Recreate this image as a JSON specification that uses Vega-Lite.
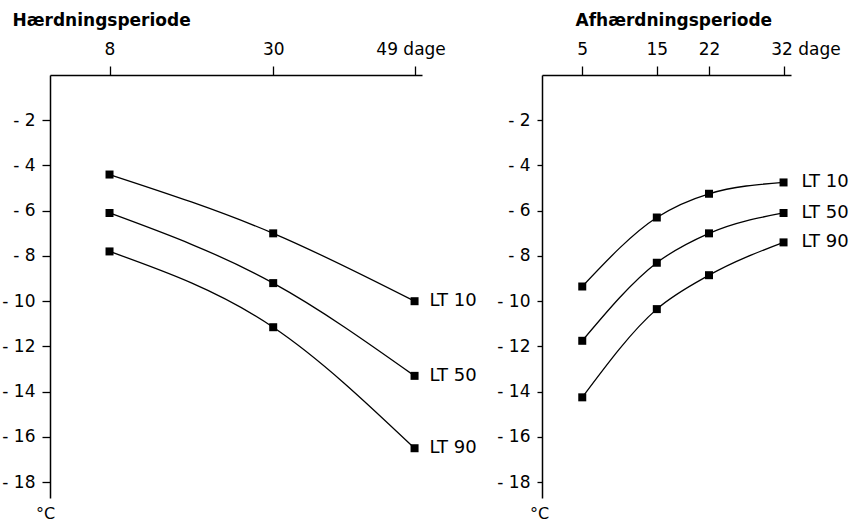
{
  "$schema": "https://vega.github.io/schema/vega-lite/v6.json",
  "background": "white",
  "padding": {"left": 1, "top": 11, "right": 0, "bottom": 0},
  "config": {
    "view": {"stroke": null},
    "font": "DejaVu Sans",
    "axis": {
      "domainColor": "black", "domainWidth": 1.5, "tickColor": "black", "tickWidth": 1.3,
      "labelColor": "black", "titleColor": "black", "labelFont": "DejaVu Sans", "titleFont": "DejaVu Sans",
      "labelFontSize": 17, "grid": false, "labelOverlap": false, "labelFlush": false
    }
  },
  "bounds": "flush",
  "spacing": 120,
  "datasets": {
    "haerdning": [
      {"serie": "LT 10", "dage": 8, "temp": -4.4},
      {"serie": "LT 10", "dage": 30, "temp": -7.0},
      {"serie": "LT 10", "dage": 49, "temp": -10.0},
      {"serie": "LT 50", "dage": 8, "temp": -6.1},
      {"serie": "LT 50", "dage": 30, "temp": -9.2},
      {"serie": "LT 50", "dage": 49, "temp": -13.3},
      {"serie": "LT 90", "dage": 8, "temp": -7.8},
      {"serie": "LT 90", "dage": 30, "temp": -11.15},
      {"serie": "LT 90", "dage": 49, "temp": -16.5}
    ],
    "afhaerdning": [
      {"serie": "LT 10", "dage": 5, "temp": -9.35},
      {"serie": "LT 10", "dage": 15, "temp": -6.3},
      {"serie": "LT 10", "dage": 22, "temp": -5.25},
      {"serie": "LT 10", "dage": 32, "temp": -4.75},
      {"serie": "LT 50", "dage": 5, "temp": -11.75},
      {"serie": "LT 50", "dage": 15, "temp": -8.3},
      {"serie": "LT 50", "dage": 22, "temp": -7.0},
      {"serie": "LT 50", "dage": 32, "temp": -6.1},
      {"serie": "LT 90", "dage": 5, "temp": -14.25},
      {"serie": "LT 90", "dage": 15, "temp": -10.35},
      {"serie": "LT 90", "dage": 22, "temp": -8.85},
      {"serie": "LT 90", "dage": 32, "temp": -7.4}
    ]
  },
  "hconcat": [
    {
      "width": 372,
      "height": 423,
      "data": {"name": "haerdning"},
      "encoding": {
        "x": {
          "field": "dage", "type": "quantitative",
          "scale": {"domain": [0, 50], "nice": false, "zero": false},
          "axis": {
            "orient": "top", "values": [8, 30, 49],
            "labelExpr": "datum.value == 49 ? '49 dage' : datum.label",
            "labelOffset": {"condition": {"test": "datum.value == 49", "value": -4}, "value": 0},
            "tickSize": 9, "labelPadding": 8,
            "title": "Hærdningsperiode", "titleX": -38, "titleY": -50,
            "titleAlign": "left", "titleBaseline": "alphabetic",
            "titleFontSize": 17, "titleFontWeight": "bold"
          }
        },
        "y": {
          "field": "temp", "type": "quantitative",
          "scale": {"domain": [-18.7, 0], "nice": false},
          "axis": {
            "values": [-2, -4, -6, -8, -10, -12, -14, -16, -18],
            "labelExpr": "'- ' + abs(datum.value)",
            "tickSize": 8, "labelPadding": 7,
            "title": "°C", "titleAngle": 0, "titleX": -5, "titleY": 438,
            "titleAlign": "center", "titleBaseline": "middle",
            "titleFontWeight": "normal", "titleFontSize": 16
          }
        },
        "detail": {"field": "serie"}
      },
      "layer": [
        {"mark": {"type": "line", "interpolate": "monotone", "color": "black", "strokeWidth": 1.3}},
        {"mark": {"type": "point", "shape": "square", "filled": true, "size": 64, "color": "black", "opacity": 1}},
        {
          "transform": [{"filter": "datum.dage == 49"}],
          "mark": {"type": "text", "align": "left", "baseline": "middle", "dx": 15, "fontSize": 18, "color": "black", "font": "DejaVu Sans"},
          "encoding": {"text": {"field": "serie"}}
        }
      ]
    },
    {
      "width": 249,
      "height": 423,
      "data": {"name": "afhaerdning"},
      "encoding": {
        "x": {
          "field": "dage", "type": "quantitative",
          "scale": {"domain": [-0.4, 33], "nice": false, "zero": false},
          "axis": {
            "orient": "top", "values": [5, 15, 22, 32],
            "labelExpr": "datum.value == 32 ? '32 dage' : datum.label",
            "labelOffset": {"condition": {"test": "datum.value == 32", "value": 22}, "value": 0},
            "tickSize": 9, "labelPadding": 8,
            "title": "Afhærdningsperiode", "titleX": 33, "titleY": -50,
            "titleAlign": "left", "titleBaseline": "alphabetic",
            "titleFontSize": 17, "titleFontWeight": "bold"
          }
        },
        "y": {
          "field": "temp", "type": "quantitative",
          "scale": {"domain": [-18.7, 0], "nice": false},
          "axis": {
            "values": [-2, -4, -6, -8, -10, -12, -14, -16, -18],
            "labelExpr": "'- ' + abs(datum.value)",
            "tickSize": 5, "labelPadding": 7,
            "title": "°C", "titleAngle": 0, "titleX": -3, "titleY": 438,
            "titleAlign": "center", "titleBaseline": "middle",
            "titleFontWeight": "normal", "titleFontSize": 16
          }
        },
        "detail": {"field": "serie"}
      },
      "layer": [
        {"mark": {"type": "line", "interpolate": "monotone", "color": "black", "strokeWidth": 1.3}},
        {"mark": {"type": "point", "shape": "square", "filled": true, "size": 64, "color": "black", "opacity": 1}},
        {
          "transform": [{"filter": "datum.dage == 32"}],
          "mark": {"type": "text", "align": "left", "baseline": "middle", "dx": 18, "fontSize": 18, "color": "black", "font": "DejaVu Sans"},
          "encoding": {"text": {"field": "serie"}}
        }
      ]
    }
  ]
}
